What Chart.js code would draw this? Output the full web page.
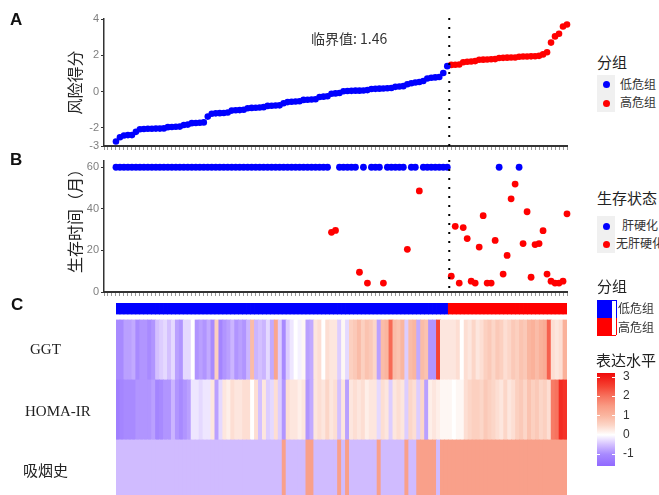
<!DOCTYPE html>
<html><head><meta charset="utf-8">
<script src="https://cdn.jsdelivr.net/npm/chart.js@4.4.0/dist/chart.umd.min.js"></script>
<style>
html,body{margin:0;padding:0;background:#fff;width:659px;height:495px;overflow:hidden;position:relative;}
canvas{position:absolute;}
.t{position:absolute;white-space:nowrap;color:#333;line-height:1;}
.lab{font-family:"Liberation Sans",Arial,sans-serif;font-weight:bold;font-size:17px;color:#111;}
.cjk{font-family:"Noto Sans CJK SC","Noto Sans",sans-serif;}
.dot{position:absolute;width:7px;height:7px;border-radius:50%;}
.box{position:absolute;background:#f0f0f0;}
</style></head><body>
<canvas id="cA" width="590" height="160" style="left:0;top:0"></canvas>
<canvas id="cB" width="590" height="155" style="left:0;top:150px"></canvas>
<canvas id="cC" width="590" height="202" style="left:0;top:298px"></canvas>
<div id="overlay"></div>
<script>
// ---------------- data ----------------
const N = 114;
const lowCount = 84;            // samples 0..83 = 低危组, 84..113 = 高危组
const cutoffText = '临界值: 1.46';
const groupNames = ['低危组', '高危组'];
const statusNames = ['肝硬化', '无肝硬化'];
const rowNames = ['GGT', 'HOMA-IR', '吸烟史'];
const riskTicks = [-3, -2, 0, 2, 4];
const timeTicks = [0, 20, 40, 60];
const legendTicks = [3, 2, 1, 0, -1];

const riskScore = [
 -2.75,-2.52,-2.42,-2.40,-2.40,-2.22,-2.08,-2.06,-2.05,-2.05,
 -2.04,-2.04,-2.03,-1.96,-1.95,-1.94,-1.93,-1.84,-1.82,-1.74,
 -1.73,-1.72,-1.70,-1.38,-1.22,-1.20,-1.19,-1.18,-1.15,-1.05,
 -1.03,-1.02,-1.00,-0.92,-0.90,-0.89,-0.88,-0.86,-0.79,-0.78,
 -0.77,-0.76,-0.64,-0.58,-0.56,-0.55,-0.53,-0.46,-0.45,-0.44,
 -0.42,-0.30,-0.28,-0.26,-0.12,-0.10,-0.08,0.02,0.03,0.04,
 0.05,0.05,0.06,0.08,0.14,0.15,0.16,0.17,0.18,0.20,
 0.26,0.28,0.30,0.40,0.46,0.50,0.53,0.58,0.72,0.76,
 0.78,0.80,1.02,1.40,
 1.47,1.48,1.49,1.62,1.64,1.66,1.68,1.75,1.76,1.77,
 1.78,1.79,1.85,1.86,1.87,1.88,1.88,1.92,1.93,1.93,
 1.94,1.95,1.97,2.05,2.17,2.70,3.04,3.19,3.59,3.70
];
const survTime = [
 60,60,60,60,60,60,60,60,60,60,
 60,60,60,60,60,60,60,60,60,60,
 60,60,60,60,60,60,60,60,60,60,
 60,60,60,60,60,60,60,60,60,60,
 60,60,60,60,60,60,60,60,60,60,
 60,60,60,60,28.7,29.6,60,60,60,60,
 60,9.5,60,4.3,60,60,60,4.3,60,60,
 60,60,60,20.5,60,60,48.6,60,60,60,
 60,60,60,60,7.6,31.6,4.3,31,25.7,5.2,
 4.3,21.6,36.7,4.3,4.3,24.8,60,8.6,17.6,44.8,
 51.9,60,23.3,38.6,7.1,22.8,23.3,29.5,8.6,5.2,
 4.3,4.3,5.2,37.6
];
// 0 = 肝硬化, 1 = 无肝硬化
const survStatus = [
 0,0,0,0,0,0,0,0,0,0,
 0,0,0,0,0,0,0,0,0,0,
 0,0,0,0,0,0,0,0,0,0,
 0,0,0,0,0,0,0,0,0,0,
 0,0,0,0,0,0,0,0,0,0,
 0,0,0,0,1,1,0,0,0,0,
 0,1,0,1,0,0,0,1,0,0,
 0,0,0,1,0,0,1,0,0,0,
 0,0,0,0,1,1,1,1,1,1,
 1,1,1,1,1,1,0,1,1,1,
 1,0,1,1,1,1,1,1,1,1,
 1,1,1,1
];
const ggt = [
 -1.0,-1.0,-0.8,-0.8,-0.7,-1.0,-0.9,-0.9,-1.0,-0.9,
 -0.5,-0.4,-0.3,-0.5,-0.3,-0.8,-0.9,-0.3,-0.3,0.0,
 -0.9,-0.8,-0.9,-0.7,-1.0,0.6,-1.1,-0.9,-0.8,-0.6,
 -0.9,-0.8,-0.9,-0.6,0.9,-0.6,-0.5,-0.6,-0.3,-0.7,
 1.3,-0.4,-1.0,-0.4,-0.2,0.0,-0.1,0.1,-0.8,-0.7,
 0.3,0.4,0.0,0.4,0.3,0.3,-0.4,0.1,-0.3,0.6,
 0.7,0.9,0.6,0.8,0.7,0.5,-0.8,0.9,1.0,2.1,
 0.9,0.8,1.0,-0.4,0.9,1.0,-0.7,0.9,0.8,-0.9,
 -0.9,2.5,0.3,0.3,0.3,0.3,0.4,0.0,0.4,0.3,
 0.5,0.3,0.4,0.6,0.7,0.5,0.7,0.6,0.4,0.5,
 0.7,0.6,0.8,0.7,1.0,1.1,0.9,1.1,1.2,2.2,
 0.4,0.3,0.4,1.1
];
const homa = [
 -1.2,-1.1,-1.0,-1.0,-1.0,-0.9,-0.9,-0.9,-0.9,-0.8,
 -1.1,-1.0,-0.9,-0.9,-0.6,-0.9,-1.0,-0.9,-0.8,-0.2,
 -0.2,-0.3,-0.2,-0.2,0.3,-0.8,-0.3,0.3,0.2,0.4,
 0.3,0.3,0.4,0.4,0.0,0.4,-0.5,0.3,-0.4,-0.3,
 0.4,-0.4,-0.9,0.4,0.3,0.3,0.2,0.3,-0.9,-0.7,
 0.3,0.4,0.3,0.5,0.3,0.4,-0.5,0.3,-0.8,0.3,
 0.4,0.3,0.4,0.2,0.3,0.3,-0.3,0.4,0.3,-0.4,
 0.3,0.4,0.3,-0.4,0.5,0.4,-0.4,0.5,-0.8,0.2,
 0.3,0.2,0.1,0.1,0.1,0.0,0.1,0.1,0.4,0.5,
 0.6,0.6,0.5,0.7,0.6,0.5,0.4,0.3,0.5,0.3,
 0.4,0.6,0.7,0.5,0.8,0.6,0.7,0.5,0.6,0.4,
 1.9,2.0,2.8,2.7
];
// 1 = 有吸烟史
const smoking = [
 0,0,0,0,0,0,0,0,0,0,
 0,0,0,0,0,0,0,0,0,0,
 0,0,0,0,0,0,0,0,0,0,
 0,0,0,0,0,0,0,0,0,0,
 0,0,1,0,0,0,0,0,1,1,
 0,0,0,0,0,0,1,0,1,0,
 0,0,0,0,0,0,1,0,0,0,
 0,0,0,1,0,0,1,1,1,1,
 1,0,1,1,1,1,1,1,1,1,
 1,1,1,1,1,1,1,1,1,1,
 1,1,1,1,1,1,1,1,1,1,
 1,1,1,1
];
const smokingLevels = [-0.55, 1.4];   // scaled expression level for 无 / 有

// ---------------- styles ----------------
const BLUE = '#0000FF', RED = '#FF0000';
const stops = [[-1.6,[145,105,255]],[-1,[168,138,255]],[-0.5,[212,192,255]],[0,[255,255,255]],
  [0.5,[252,214,200]],[1,[250,182,160]],[1.5,[249,155,132]],[2,[247,115,95]],[2.5,[245,68,52]],[3.2,[240,10,10]]];
function col(v){
  if (v <= stops[0][0]) return 'rgb('+stops[0][1].join(',')+')';
  for (let k=1;k<stops.length;k++){
    if (v <= stops[k][0]){
      const [a,ca]=stops[k-1],[b,cb]=stops[k]; const t=(v-a)/(b-a);
      return 'rgb('+ca.map((c,j)=>Math.round(c+(cb[j]-c)*t)).join(',')+')';
    }
  }
  return 'rgb('+stops[stops.length-1][1].join(',')+')';
}
const tickFont = {family:'"Liberation Sans", Arial, sans-serif', size:11};
const titleFont = {family:'"Noto Sans CJK SC", sans-serif', size:16};

const cutLine = {
  id:'cutLine',
  afterDatasetsDraw(chart){
    const x = chart.scales.x.getPixelForValue(lowCount - 0.5);
    const a = chart.chartArea; const ctx = chart.ctx;
    ctx.save(); ctx.strokeStyle='#000'; ctx.lineWidth=2; ctx.setLineDash([2,7]);
    ctx.beginPath(); ctx.moveTo(x, a.top-1); ctx.lineTo(x, a.bottom); ctx.stroke(); ctx.restore();
  }
};

function xScale(){
  return {type:'linear', min:-3, max:113,
    afterFit(s){ s.height = 6; },
    ticks:{display:false, stepSize:1, maxTicksLimit:200, autoSkip:false},
    grid:{drawOnChartArea:false, drawTicks:true, tickLength:4, color:'#999', lineWidth:1},
    border:{display:true, color:'#333', width:2}};
}
function yScale(min,max,ticks,title,align){
  return {type:'linear', min, max,
    afterFit(s){ s.width = 42; },
    afterBuildTicks(s){ s.ticks = ticks.map(v=>({value:v})); },
    ticks:{color:'#7f7f7f', font:tickFont, padding:2},
    grid:{drawOnChartArea:false, drawTicks:true, tickLength:3, color:'#333'},
    border:{display:true, color:'#333', width:1.5},
    title:{display:true, text:title, color:'#222', font:titleFont, align:align, padding:{top:3,bottom:2}}};
}
const common = {responsive:false, animation:false, devicePixelRatio:1,
  plugins:{legend:{display:false}, tooltip:{enabled:false}}};

// ---------------- A: risk score ----------------
const idx = riskScore.map((_, i) => i);
new Chart(document.getElementById('cA'), {
  type:'scatter',
  data:{datasets:[
    {data: idx.filter(i=>i<lowCount).map(i=>({x:i,y:riskScore[i]})), backgroundColor:BLUE, pointRadius:3.3, borderWidth:0, clip:false},
    {data: idx.filter(i=>i>=lowCount).map(i=>({x:i,y:riskScore[i]})), backgroundColor:RED, pointRadius:3.3, borderWidth:0, clip:false}
  ]},
  options:{...common, layout:{padding:{left:62, right:23, top:19, bottom:8}},
    scales:{x:xScale(), y:yScale(-3,4,riskTicks,'风险得分','center')}},
  plugins:[cutLine]
});

// ---------------- B: survival ----------------
new Chart(document.getElementById('cB'), {
  type:'scatter',
  data:{datasets:[
    {data: idx.filter(i=>survStatus[i]===0).map(i=>({x:i,y:survTime[i]})), backgroundColor:BLUE, pointRadius:3.4, borderWidth:0, clip:false},
    {data: idx.filter(i=>survStatus[i]===1).map(i=>({x:i,y:survTime[i]})), backgroundColor:RED, pointRadius:3.4, borderWidth:0, clip:false}
  ]},
  options:{...common, layout:{padding:{left:62, right:23, top:11, bottom:7}},
    scales:{x:xScale(), y:yScale(0,63,timeTicks,'生存时间（月）','end')}},
  plugins:[cutLine]
});

// ---------------- C: heatmap ----------------
const rowH = [60, 60, 60, 6, 11];   // 吸烟史, HOMA-IR, GGT, gap, group bar
new Chart(document.getElementById('cC'), {
  type:'bar',
  data:{labels: idx.map(String), datasets:[
    {data: idx.map(()=>rowH[0]), backgroundColor: smoking.map(s=>col(smokingLevels[s]))},
    {data: idx.map(()=>rowH[1]), backgroundColor: homa.map(col)},
    {data: idx.map(()=>rowH[2]), backgroundColor: ggt.map(col)},
    {data: idx.map(()=>rowH[3]), backgroundColor: 'rgba(0,0,0,0)'},
    {data: idx.map(()=>rowH[4]), backgroundColor: idx.map(i=> i<lowCount ? BLUE : RED)}
  ]},
  options:{...common, layout:{padding:{left:116, right:23, top:5, bottom:0}},
    datasets:{bar:{categoryPercentage:1, barPercentage:1, borderWidth:0, inflateAmount:0.4}},
    scales:{x:{stacked:true, display:false}, y:{stacked:true, display:false, min:0, max:197}}}
});

// ---------------- overlay text & legends ----------------
const ov = document.getElementById('overlay');
function txt(s, x, y, cls, style){
  const d=document.createElement('div'); d.className='t '+(cls||''); d.textContent=s;
  d.style.left=x+'px'; d.style.top=y+'px'; if(style) Object.assign(d.style, style); ov.appendChild(d); return d;
}
function dot(x,y,c){ const d=document.createElement('div'); d.className='dot'; d.style.left=(x-3.5)+'px'; d.style.top=(y-3.5)+'px'; d.style.background=c; ov.appendChild(d); }
function box(x,y,w,h,c){ const d=document.createElement('div'); d.className='box'; Object.assign(d.style,{left:x+'px',top:y+'px',width:w+'px',height:h+'px'}); if(c) d.style.background=c; ov.appendChild(d); return d; }

txt('A', 10, 11, 'lab'); txt('B', 10, 151, 'lab'); txt('C', 11, 296, 'lab');
txt(cutoffText, 311, 31, 'cjk', {fontSize:'14px', color:'#333'});

// legend A
txt('分组', 597, 54, 'cjk', {fontSize:'15px', color:'#222'});
box(597, 75, 18, 37);
dot(606, 84, BLUE); dot(606, 103, RED);
txt(groupNames[0], 620, 78, 'cjk', {fontSize:'12px'});
txt(groupNames[1], 620, 96, 'cjk', {fontSize:'12px'});

// legend B
txt('生存状态', 597, 190, 'cjk', {fontSize:'15px', color:'#222'});
box(597, 216, 18, 37);
dot(606, 226, BLUE); dot(606, 244, RED);
txt(statusNames[0], 622, 219, 'cjk', {fontSize:'12px'});
txt(statusNames[1], 616, 237, 'cjk', {fontSize:'12px'});

// row labels C
txt(rowNames[0], 30, 342, '', {fontFamily:'"Liberation Serif", serif', fontSize:'15px', color:'#222'});
txt(rowNames[1], 25, 404, '', {fontFamily:'"Liberation Serif", serif', fontSize:'15px', color:'#222'});
txt(rowNames[2], 23, 462, 'cjk', {fontSize:'15px', color:'#222'});

// legend C group
txt('分组', 597, 278, 'cjk', {fontSize:'15px', color:'#222'});
box(597, 300, 15, 18, BLUE); box(597, 318, 15, 17, RED);
box(612, 300, 4, 1, BLUE); box(616, 300, 1, 18, BLUE);
box(616, 318, 1, 17, RED); box(597, 335, 19, 1, RED);
txt(groupNames[0], 618, 302, 'cjk', {fontSize:'12px'});
txt(groupNames[1], 618, 321, 'cjk', {fontSize:'12px'});

// colour bar
txt('表达水平', 596, 352, 'cjk', {fontSize:'15px', color:'#222'});
const vTop = 3.21, vBot = -1.61, yTop = 373, yBot = 466;
const grad = stops.map(([v,c]) => 'rgb('+c.join(',')+') '+(((v - vBot)/(vTop - vBot))*100).toFixed(1)+'%').join(',');
box(597, yTop, 18, yBot-yTop, '').style.background = 'linear-gradient(to top,'+grad+')';
legendTicks.forEach(v=>{
  const y = yTop + (vTop - v)/(vTop - vBot)*(yBot - yTop);
  box(597, y-0.5, 3, 1, '#fff'); box(612, y-0.5, 3, 1, '#fff');
  txt(String(v), 623, y-7, '', {fontFamily:'"Liberation Sans", Arial, sans-serif', fontSize:'12px', color:'#333'});
});
</script>
</body></html>
